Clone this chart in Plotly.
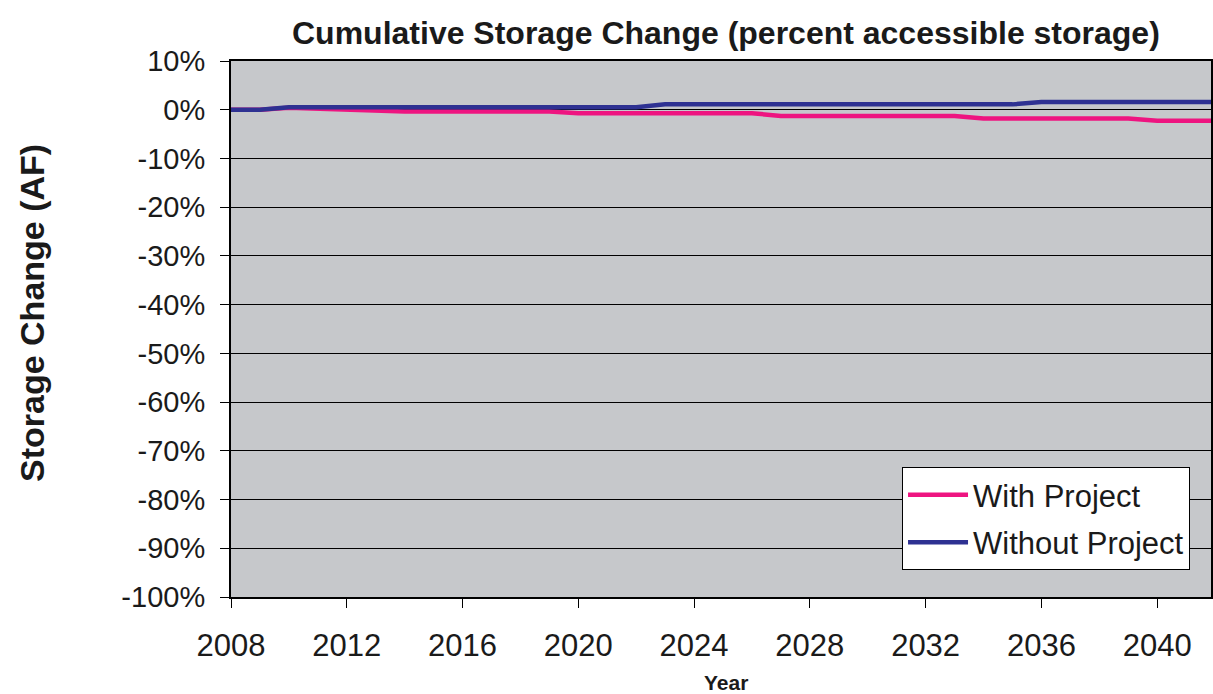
import plotly.graph_objects as go

# Annual cumulative storage change, percent of accessible storage
years = list(range(2008, 2043))
with_project = [0.0, 0.0, 0.4, 0.2, 0.0, -0.35, -0.35, -0.35, -0.35, -0.35,
                -0.35, -0.35, -0.7, -0.7, -0.7, -0.7, -0.7, -0.7, -0.7, -1.3,
                -1.3, -1.3, -1.3, -1.3, -1.3, -1.3, -1.8, -1.8, -1.8, -1.8,
                -1.8, -1.8, -2.25, -2.25, -2.25]
without_project = [0.0, 0.0, 0.5, 0.5, 0.5, 0.5, 0.5, 0.5, 0.5, 0.5,
                   0.5, 0.5, 0.5, 0.5, 0.5, 1.1, 1.1, 1.1, 1.1, 1.1,
                   1.1, 1.1, 1.1, 1.1, 1.1, 1.1, 1.1, 1.1, 1.6, 1.6,
                   1.6, 1.6, 1.6, 1.6, 1.6]

y_tick_vals = [10, 0, -10, -20, -30, -40, -50, -60, -70, -80, -90, -100]
y_tick_text = ["10%", "0%", "-10%", "-20%", "-30%", "-40%", "-50%", "-60%",
               "-70%", "-80%", "-90%", "-100%"]
x_tick_vals = [2008, 2012, 2016, 2020, 2024, 2028, 2032, 2036, 2040]

FONT = "Liberation Sans, Arial, sans-serif"
PINK = "#EE1480"
NAVY = "#2E3192"

fig = go.Figure()
fig.add_trace(go.Scatter(
    x=years, y=with_project, mode="lines", name="With Project",
    line=dict(color=PINK, width=4.5), legendgroup="a",
))
fig.add_trace(go.Scatter(
    x=years, y=without_project, mode="lines", name="Without Project",
    line=dict(color=NAVY, width=4.5), legendgroup="b",
))

fig.update_layout(
    width=1213, height=694,
    margin=dict(l=231, r=0, t=61, b=97),
    paper_bgcolor="white",
    plot_bgcolor="#C6C8CB",
    font=dict(family=FONT, color="#1a1a1a"),
    showlegend=True,
    legend=dict(
        x=0.9786, y=0.05, xanchor="right", yanchor="bottom",
        bgcolor="white", bordercolor="black", borderwidth=1,
        font=dict(size=31, family=FONT, color="#1a1a1a"),
        itemwidth=60, tracegroupgap=4, traceorder="grouped",
    ),
    title=dict(
        text="<b>Cumulative Storage Change (percent accessible storage)</b>",
        x=0.505, xref="paper", y=0.953, yref="container",
        xanchor="center", yanchor="middle",
        font=dict(size=32, family=FONT, color="#1a1a1a"),
    ),
)

fig.update_xaxes(
    range=[2008, 2041.86], tickvals=x_tick_vals,
    ticks="outside", ticklen=9, tickcolor="black", tickwidth=1,
    tickfont=dict(size=31, family=FONT, color="#1a1a1a"),
    ticklabelstandoff=11,
    showgrid=False, zeroline=False,
    showline=True, linecolor="black", linewidth=2, mirror=True,
)
fig.update_yaxes(
    range=[-100, 10], tickvals=y_tick_vals, ticktext=y_tick_text,
    ticks="outside", ticklen=9, tickcolor="black", tickwidth=1,
    tickfont=dict(size=29, family=FONT, color="#1a1a1a"),
    ticklabelstandoff=9,
    showgrid=True, gridcolor="black", gridwidth=1, zeroline=False,
    showline=True, linecolor="black", linewidth=2, mirror=True,
)

fig.add_annotation(
    text="<b>Storage Change (AF)</b>", textangle=-90,
    xref="paper", yref="paper", x=-0.203, y=0.53,
    xanchor="center", yanchor="middle", showarrow=False,
    font=dict(size=34, family=FONT, color="#1a1a1a"),
)
fig.add_annotation(
    text="<b>Year</b>",
    xref="paper", yref="paper", x=0.505, y=-0.16,
    xanchor="center", yanchor="middle", showarrow=False,
    font=dict(size=21, family=FONT, color="#1a1a1a"),
)

fig.write_html("out.html")
